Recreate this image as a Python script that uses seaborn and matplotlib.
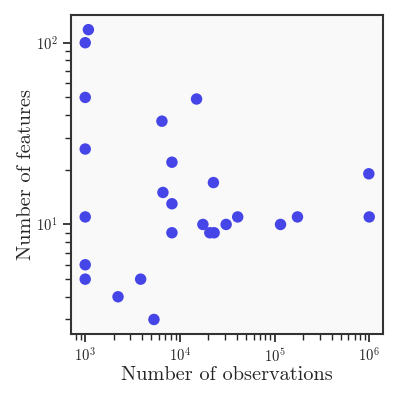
import matplotlib
matplotlib.use("Agg")
import matplotlib.pyplot as plt
import seaborn as sns
import pandas as pd

# observations / features per dataset
n_obs = [1080, 1000, 1000, 15000, 6460, 1000, 8240, 22600, 6620, 8240,
         1000, 17500, 20700, 23000, 30800, 8240, 1000, 1000, 3850, 2220,
         5320, 40800, 115600, 174600, 990000, 1000000]
n_feat = [118, 100, 50, 49, 37, 26, 22, 17, 15, 13,
          11, 10, 9, 9, 10, 9, 6, 5, 5, 4,
          3, 11, 10, 11, 19, 11]

df = pd.DataFrame({"obs": n_obs, "feat": n_feat})

sns.set_theme(style="ticks")
plt.rcParams['font.family'] = 'serif'
plt.rcParams['font.serif'] = ['cmr10', 'DejaVu Serif']
plt.rcParams['mathtext.fontset'] = 'cm'
plt.rcParams['axes.formatter.use_mathtext'] = True

fig = plt.figure(figsize=(3.99, 3.99), dpi=100)
ax = fig.add_axes([0.178, 0.163, 0.783, 0.799])
ax.set_facecolor('#f9f9f9')

sns.scatterplot(data=df, x="obs", y="feat", ax=ax, color='#4646e8',
                s=68, edgecolor='none', linewidth=0)
ax.set_xscale('log')
ax.set_yscale('log')

ax.set_xlabel("Number of observations", fontsize=14.6, labelpad=1)
ax.set_ylabel("Number of features", fontsize=14.6, labelpad=1)
ax.tick_params(labelsize=10.5)

for sp in ax.spines.values():
    sp.set_color('#333333')
    sp.set_linewidth(1.5)

fig.savefig("out.png", dpi=100)
